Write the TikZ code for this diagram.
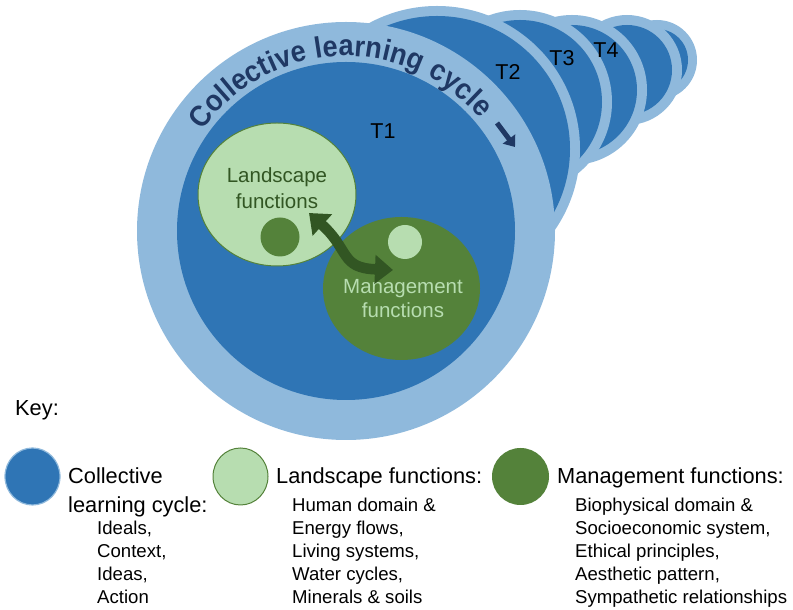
\documentclass[tikz,border=0pt]{standalone}
\usepackage{fontspec}
\setmainfont{Liberation Sans}
\newfontfamily\arcfont[FakeStretch=0.92]{Liberation Sans}
\usetikzlibrary{shapes.geometric,arrows.meta,decorations.text}
\definecolor{dblue}{RGB}{47,117,181}
\definecolor{lblue}{RGB}{143,185,220}
\definecolor{lgreen}{RGB}{183,221,176}
\definecolor{mgreen}{RGB}{84,130,58}
\definecolor{dgreen}{RGB}{50,86,35}
\definecolor{navy}{RGB}{31,56,100}
\tikzset{
  hdr/.style={anchor=base west, inner sep=0pt, font=\fontsize{21.8}{21.8}\selectfont},
  sublbl/.style={anchor=base west, inner sep=0pt, font=\fontsize{18.6}{18.6}\selectfont},
  tlab/.style={inner sep=0pt, font=\fontsize{21.5}{21.5}\selectfont},
  inlbl/.style={anchor=base, inner sep=0pt, font=\fontsize{20.5}{20.5}\selectfont},
  blob/.style={ellipse, inner sep=0pt},
}
\begin{document}
\begin{tikzpicture}[x=1pt,y=1pt]
\useasboundingbox (0,0) rectangle (793,610);
% learning cycle circles, back to front
\foreach \cx/\cy/\R/\r in {657/550/40/31, 627/540/55/45, 572/520/75/65, 520/508/92/82, 437/461/143/133, 346/379/209/169}{
  \fill[lblue] (\cx,\cy) circle (\R pt);
  \fill[dblue] (\cx,\cy) circle (\r pt);
}
% text along ring
\path[decorate, decoration={text along path, text align=fit to path, text color=navy,
  text={|\arcfont\fontsize{29.5}{29.5}\selectfont\bfseries|Collective learning cycle}}]
  (346,379) ++(145:175pt) arc[start angle=145, end angle=40, radius=175pt];
\coordinate (ca1) at (497,487);
\coordinate (ca2) at (515,463);
\draw[navy, line width=5pt, -{Triangle[length=10pt,width=15pt]}] (ca1) -- (ca2);
% T labels
\node[tlab] (t1) at (383,479) {T1};
\node[tlab] (t2) at (508,538) {T2};
\node[tlab] (t3) at (562,552) {T3};
\node[tlab] (t4) at (606,560) {T4};
% function ellipses
\node[blob, fill=lgreen, draw=mgreen, line width=1pt, minimum width=158pt, minimum height=143pt] (land) at (277,415.5) {};
\node[circle, inner sep=0pt, fill=mgreen, minimum size=39pt] (ldot) at (280,373) {};
\node[blob, fill=mgreen, minimum width=157pt, minimum height=143pt] (mgmt) at (401.5,321.5) {};
\node[circle, inner sep=0pt, fill=lgreen, minimum size=34pt] (mdot) at (405,368) {};
\node[inlbl, text=dgreen] (landt1) at (277,427) {Landscape};
\node[inlbl, text=dgreen] (landt2) at (277,401) {functions};
\node[inlbl, text=lgreen] (mgmtt1) at (403,316.5) {Management};
\node[inlbl, text=lgreen] (mgmtt2) at (403,292) {functions};
\coordinate (la) at (309,397);
\coordinate (ma) at (393,340);
\draw[dgreen, line width=10.5pt, {Triangle[length=18pt,width=28pt]}-{Triangle[length=18pt,width=28pt]}]
  (la) .. controls (350,360) and (340,342) .. (ma);
% key
\node[hdr] (key) at (15,194.5) {Key:};
\node[blob, fill=dblue, draw=lblue, line width=1.2pt, minimum width=55pt, minimum height=57pt] (kblue) at (32.5,133.5) {};
\node[blob, fill=lgreen, draw=mgreen, line width=1pt, minimum width=55pt, minimum height=57pt] (kland) at (240.5,133.5) {};
\node[blob, fill=mgreen, minimum width=57pt, minimum height=57pt] (kmgmt) at (520.5,133.5) {};
\node[hdr] (kct1) at (68,126.5) {Collective};
\node[hdr] (kct2) at (68,97.5) {learning cycle:};
\node[hdr] (klt) at (276,126.5) {Landscape functions:};
\node[hdr] (kmt) at (557,126.5) {Management functions:};
\foreach \t [count=\i] in {{Ideals,},{Context,},{Ideas,},{Action}}
  \node[sublbl] (kc\i) at (97,98.5-23*\i) {\t};
\foreach \t [count=\i] in {{Human domain \&},{Energy flows,},{Living systems,},{Water cycles,},{Minerals \& soils}}
  \node[sublbl] (kl\i) at (292,121.5-23*\i) {\t};
\foreach \t [count=\i] in {{Biophysical domain \&},{Socioeconomic system,},{Ethical principles,},{Aesthetic pattern,},{Sympathetic relationships}}
  \node[sublbl] (km\i) at (575,121.5-23*\i) {\t};
\end{tikzpicture}
\end{document}
